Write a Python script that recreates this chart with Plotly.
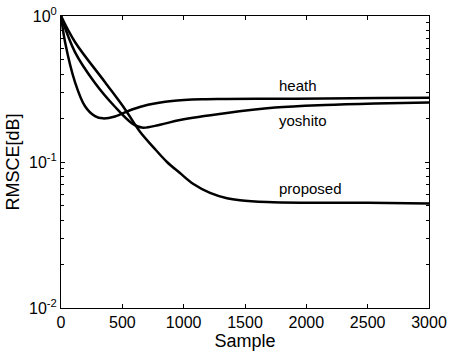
import math
import plotly.graph_objects as go

# Sample index and RMSCE values
heath_x = [0, 33, 114, 196, 277, 342, 440, 579, 709, 905, 1158, 1337, 1750, 2152, 2600, 3000]
heath_y = [1.0, 0.664, 0.353, 0.241, 0.206, 0.199, 0.205, 0.229, 0.247, 0.262, 0.269, 0.270, 0.271, 0.272, 0.274, 0.276]

yoshito_x = [0, 114, 277, 440, 579, 660, 807, 970, 1337, 1745, 2152, 2560, 3000]
yoshito_y = [1.0, 0.566, 0.348, 0.239, 0.184, 0.172, 0.180, 0.194, 0.216, 0.236, 0.246, 0.252, 0.256]

proposed_x = [0, 114, 359, 522, 644, 750, 864, 970, 1076, 1215, 1353, 1459, 1679, 2000, 2500, 3000]
proposed_y = [1.0, 0.664, 0.352, 0.230, 0.161, 0.127, 0.100, 0.084, 0.0710, 0.0615, 0.0565, 0.0547, 0.0532, 0.0526, 0.0525, 0.0520]

x_ticks = [0, 500, 1000, 1500, 2000, 2500, 3000]
y_tickvals = [0.01, 0.1, 1]
y_ticktext = ["10<sup>-2</sup>", "10<sup>-1</sup>", "10<sup>0</sup>"]
y_minor = [m * 0.01 for m in range(2, 10)] + [m * 0.1 for m in range(2, 10)]

labels = ["heath", "yoshito", "proposed"]
label_x = [1760, 1760, 1760]
label_y = [0.335, 0.192, 0.066]

FONT = "Liberation Sans, Arial, Helvetica, sans-serif"

fig = go.Figure()
for xs, ys, name in [(heath_x, heath_y, "heath"), (yoshito_x, yoshito_y, "yoshito"), (proposed_x, proposed_y, "proposed")]:
    fig.add_trace(go.Scatter(x=xs, y=ys, mode="lines", name=name,
                             line=dict(color="black", width=2.5, shape="spline", smoothing=1.0)))

for t, lx, ly in zip(labels, label_x, label_y):
    fig.add_annotation(x=lx, y=math.log10(ly), text=t, showarrow=False,
                       xanchor="left", yanchor="middle",
                       font=dict(family=FONT, size=15, color="black"))

fig.update_layout(
    width=449, height=353,
    margin=dict(l=61, r=20, t=16, b=45),
    paper_bgcolor="white", plot_bgcolor="white",
    showlegend=False,
    font=dict(family=FONT, size=16, color="black"),
)
fig.update_xaxes(
    range=[0, 3000], tickvals=x_ticks, ticks="inside", ticklen=4, tickcolor="black",
    showline=True, linecolor="black", linewidth=1, mirror="ticks", showgrid=False, zeroline=False,
    title=dict(text="Sample", font=dict(size=18), standoff=2),
    tickfont=dict(size=16), automargin=False,
)
fig.update_yaxes(
    type="log", range=[-2, 0], tickvals=y_tickvals, ticktext=y_ticktext,
    ticks="inside", ticklen=4, tickcolor="black",
    minor=dict(tickvals=y_minor, ticks="inside", ticklen=3, tickcolor="black", showgrid=False),
    showline=True, linecolor="black", linewidth=1, mirror="ticks", showgrid=False, zeroline=False,
    title=dict(text="RMSCE[dB]", font=dict(size=18), standoff=4),
    tickfont=dict(size=16), automargin=False,
)

fig.write_html("out.html")
